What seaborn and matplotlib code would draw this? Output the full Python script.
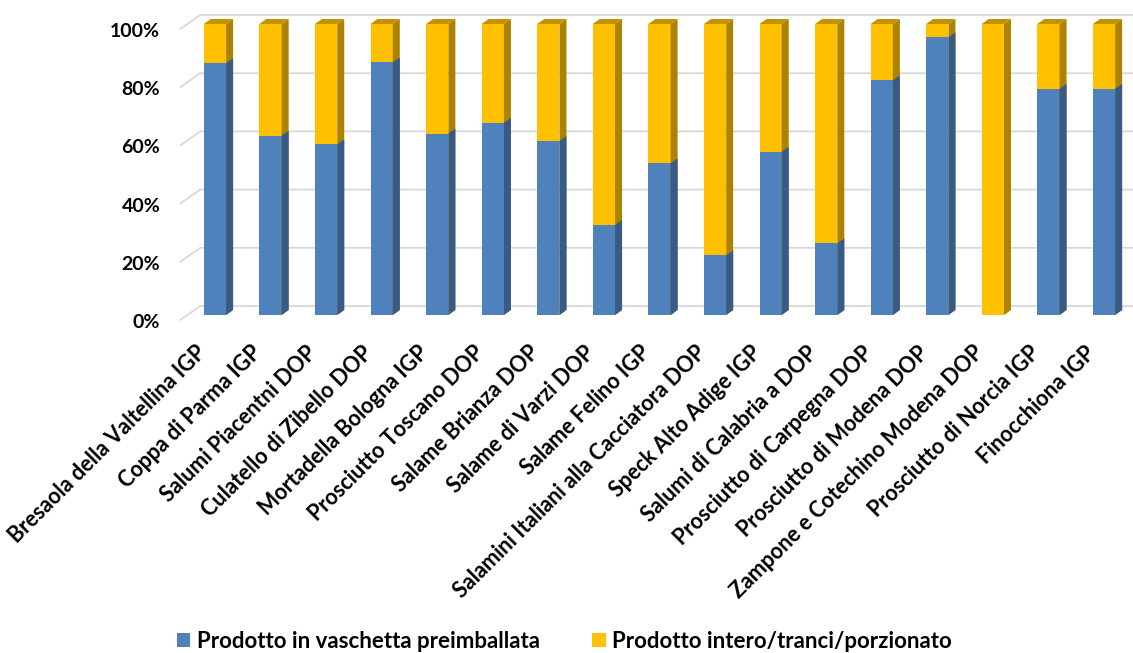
import matplotlib
matplotlib.use("Agg")
import matplotlib.pyplot as plt
from matplotlib.patches import Polygon, Patch
from matplotlib.lines import Line2D
from matplotlib.transforms import IdentityTransform, ScaledTranslation
from matplotlib.ticker import PercentFormatter
import seaborn as sns
import pandas as pd

# --- data -------------------------------------------------------------
categories = [
    "Bresaola della Valtellina IGP",
    "Coppa di Parma IGP",
    "Salumi Piacentni DOP",
    "Culatello di Zibello DOP",
    "Mortadella Bologna IGP",
    "Prosciutto Toscano DOP",
    "Salame Brianza DOP",
    "Salame di Varzi DOP",
    "Salame Felino IGP",
    "Salamini Italiani alla Cacciatora DOP",
    "Speck Alto Adige IGP",
    "Salumi di Calabria a DOP",
    "Prosciutto di Carpegna DOP",
    "Prosciutto di Modena DOP",
    "Zampone e Cotechino Modena DOP",
    "Prosciutto di Norcia IGP",
    "Finocchiona IGP",
]
vaschetta = [86.5, 61.6, 58.6, 86.8, 62.3, 66.0, 59.8, 30.9, 52.1, 20.5,
             56.1, 24.6, 80.6, 95.4, 0.0, 77.7, 77.7]
intero = [13.5, 38.4, 41.4, 13.2, 37.7, 34.0, 40.2, 69.1, 47.9, 79.5,
          43.9, 75.4, 19.4, 4.6, 100.0, 22.3, 22.3]
yticks = [0, 20, 40, 60, 80, 100]
series_labels = ["Prodotto in vaschetta preimballata",
                 "Prodotto intero/tranci/porzionato"]

# --- style ------------------------------------------------------------
BLUE, BLUE_SIDE = "#4F81BD", "#375A86"
YELLOW, YELLOW_SIDE, YELLOW_TOP = "#FFC000", "#AD8200", "#C29200"
GRID = "#D9D9D9"
DEPTH_X, DEPTH_Y = 7, 5          # bar depth in pixels
FAMILY = ["Lato", "DejaVu Sans"]

sns.set_style("white")
plt.rcParams["font.family"] = FAMILY
plt.rcParams["font.weight"] = "bold"
plt.rcParams["text.color"] = "black"
FS_Y, FS_X, FS_LEG = 14, 15.5, 16

W, H, DPI = 1133, 653, 100
fig = plt.figure(figsize=(W / DPI, H / DPI), dpi=DPI)
ax = fig.add_axes([187.2 / W, (H - 315) / H, 944.6 / W, 291 / H])

df = pd.DataFrame({
    "categoria": categories,
    "vaschetta": vaschetta,
    "totale": [a + b for a, b in zip(vaschetta, intero)],
})

# stacked bars: full height in yellow, lower share in blue on top
sns.barplot(data=df, x="categoria", y="totale", order=categories,
            color=YELLOW, saturation=1, width=0.4, linewidth=0,
            ax=ax, zorder=3)
sns.barplot(data=df, x="categoria", y="vaschetta", order=categories,
            color=BLUE, saturation=1, width=0.4, linewidth=0,
            ax=ax, zorder=3)

ax.set_xlim(-0.5, len(categories) - 0.5)
ax.set_ylim(0, 100)
ax.set_xlabel("")
ax.set_ylabel("")
for s in ax.spines.values():
    s.set_visible(False)

# --- pseudo-3D faces of the bars --------------------------------------
n = len(categories)
for i, p in enumerate(ax.patches):
    h = p.get_height()
    if h <= 0:
        continue
    x0, w, y0 = p.get_x(), p.get_width(), p.get_y()
    (lx, by), (rx, ty) = ax.transData.transform([(x0, y0), (x0 + w, y0 + h)])
    is_total = i < n
    side = YELLOW_SIDE if is_total else BLUE_SIDE
    ax.add_artist(Polygon(
        [(rx, by), (rx + DEPTH_X, by + DEPTH_Y),
         (rx + DEPTH_X, ty + DEPTH_Y), (rx, ty)],
        closed=True, facecolor=side, edgecolor="none",
        transform=IdentityTransform(), clip_on=False, zorder=3))
    if is_total:
        ax.add_artist(Polygon(
            [(lx, ty), (rx, ty), (rx + DEPTH_X, ty + DEPTH_Y),
             (lx + DEPTH_X, ty + DEPTH_Y)],
            closed=True, facecolor=YELLOW_TOP, edgecolor="none",
            transform=IdentityTransform(), clip_on=False, zorder=3))

# --- back-wall gridlines with a slanted floor edge ---------------------
for v in yticks:
    gx, gy = ax.transData.transform((-0.5, v))
    ax.add_artist(Line2D(
        [gx - 7, gx + 13, W + 5], [gy - 5, gy + 9, gy + 9],
        color=GRID, lw=1.3, transform=IdentityTransform(),
        clip_on=False, zorder=1))

# --- ticks ------------------------------------------------------------
ax.set_yticks(yticks)
ax.yaxis.set_major_formatter(PercentFormatter(decimals=0))
ax.tick_params(axis="y", length=0, pad=19.4, labelsize=FS_Y,
               labelcolor="black")
ax.tick_params(axis="x", length=0, pad=19.4, labelsize=FS_X,
               labelcolor="black")
ax.set_xticks(range(n))
ax.set_xticklabels(categories, rotation=45, ha="right", va="top")
for lab in ax.get_yticklabels():
    lab.set_fontweight("bold")
    lab.set_transform(lab.get_transform() +
                      ScaledTranslation(0, -6 / DPI, fig.dpi_scale_trans))
for lab in ax.get_xticklabels():
    lab.set_fontweight("bold")
    lab.set_transform(lab.get_transform() +
                      ScaledTranslation(-5 / DPI, 0, fig.dpi_scale_trans))

# --- legend -----------------------------------------------------------
handles = [Patch(facecolor=BLUE, edgecolor="none", label=series_labels[0]),
           Patch(facecolor=YELLOW, edgecolor="none", label=series_labels[1])]
fig.legend(handles=handles, loc="center left",
           bbox_to_anchor=(177 / W, 1 - 641 / H), ncol=2, frameon=False,
           borderpad=0, borderaxespad=0, handlelength=0.6, handleheight=0.6,
           handletextpad=0.3, columnspacing=2.35,
           prop={"family": FAMILY, "weight": "bold", "size": FS_LEG})

fig.savefig("out.png", dpi=DPI)
